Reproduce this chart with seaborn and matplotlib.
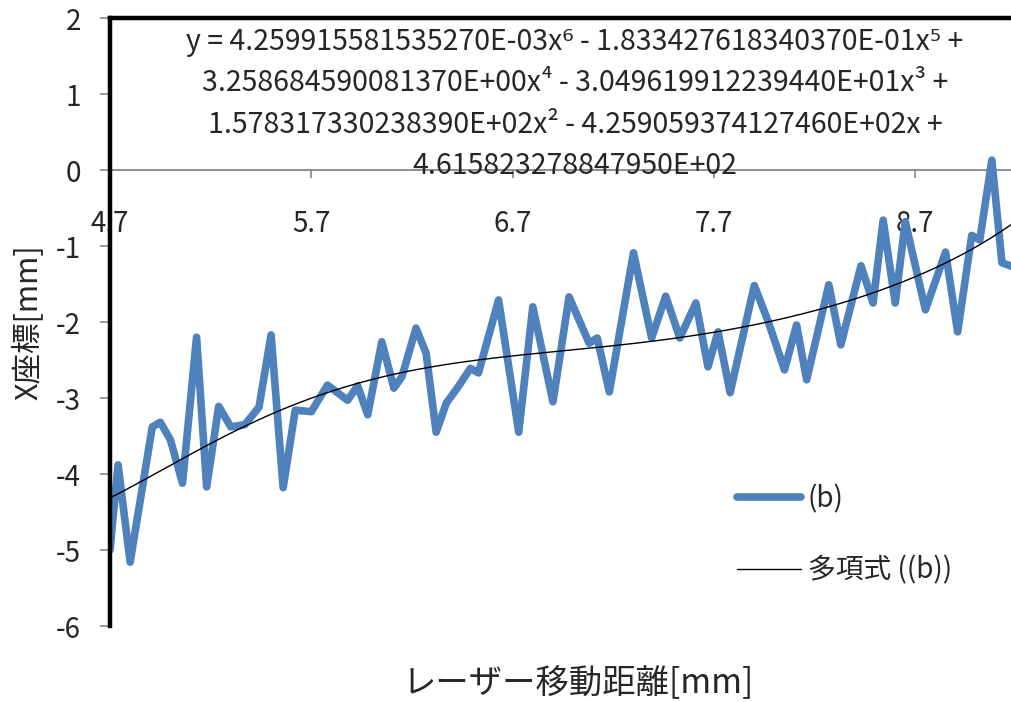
import numpy as np
import pandas as pd
import matplotlib
matplotlib.use("Agg")
import matplotlib.pyplot as plt
import seaborn as sns

# 読み取ったデータ (レーザー移動距離, X座標)
dist_mm = [4.70, 4.74, 4.80, 4.91, 4.95, 5.00, 5.06, 5.13, 5.18, 5.24, 5.30, 5.37,
           5.44, 5.50, 5.56, 5.62, 5.70, 5.78, 5.88, 5.93, 5.98, 6.05, 6.11, 6.15,
           6.22, 6.27, 6.32, 6.37, 6.43, 6.49, 6.53, 6.63, 6.73, 6.80, 6.90, 6.98,
           7.08, 7.12, 7.18, 7.30, 7.39, 7.46, 7.53, 7.61, 7.67, 7.72, 7.78, 7.90,
           7.97, 8.05, 8.11, 8.16, 8.27, 8.33, 8.43, 8.49, 8.54, 8.60, 8.65, 8.75,
           8.85, 8.91, 8.98, 9.02, 9.08, 9.13, 9.18]
x_coord = [-5.00, -3.88, -5.16, -3.38, -3.32, -3.55, -4.12, -2.20, -4.17, -3.11, -3.38, -3.35,
           -3.12, -2.17, -4.18, -3.16, -3.18, -2.83, -3.03, -2.84, -3.22, -2.26, -2.87, -2.72,
           -2.08, -2.41, -3.45, -3.07, -2.85, -2.61, -2.67, -1.71, -3.45, -1.80, -3.05, -1.67,
           -2.28, -2.21, -2.92, -1.09, -2.21, -1.66, -2.21, -1.75, -2.59, -2.13, -2.93, -1.52,
           -2.00, -2.63, -2.04, -2.76, -1.51, -2.30, -1.26, -1.75, -0.66, -1.75, -0.68, -1.84,
           -1.08, -2.13, -0.86, -0.92, 0.13, -1.22, -1.27]

# 近似曲線の係数 (6次多項式, 高次から)
poly_coef = [4.259915581535270E-03, -1.833427618340370E-01, 3.258684590081370E+00,
             -3.049619912239440E+01, 1.578317330238390E+02, -4.259059374127460E+02,
             4.615823278847950E+02]

xtick_vals = [4.7, 5.7, 6.7, 7.7, 8.7]
ytick_vals = [-6, -5, -4, -3, -2, -1, 0, 1, 2]

eq_text = ("y = 4.259915581535270E-03x⁶ - 1.833427618340370E-01x⁵ +\n"
           "3.258684590081370E+00x⁴ - 3.049619912239440E+01x³ +\n"
           "1.578317330238390E+02x² - 4.259059374127460E+02x +\n"
           "4.615823278847950E+02")

df = pd.DataFrame({"dist": dist_mm, "x": x_coord})
xt = np.linspace(min(dist_mm), max(dist_mm), 300)
trend = pd.DataFrame({"dist": xt, "x": np.polyval(poly_coef, xt)})

sns.set_style("white")
plt.rcParams["font.family"] = ["Noto Sans CJK JP", "DejaVu Sans"]
plt.rcParams["axes.unicode_minus"] = False

fig = plt.figure(figsize=(10.12, 7.02), dpi=100)
ax = fig.add_axes([110 / 1012, 1 - 626 / 702, 902 / 1012, 608 / 702])

sns.lineplot(data=df, x="dist", y="x", ax=ax, color="#4F81BD", lw=5.5,
             solid_joinstyle="round", solid_capstyle="round", label="(b)")
sns.lineplot(data=trend, x="dist", y="x", ax=ax, color="black", lw=1,
             label="多項式 ((b))")

ax.set_xlim(4.7, 9.18)
ax.set_ylim(-6, 2)

# 外枠 (上・左が太い黒線)
for s in ["top", "left"]:
    ax.spines[s].set_color("black")
    ax.spines[s].set_linewidth(3.2)
ax.spines["right"].set_visible(False)
ax.spines["bottom"].set_position(("data", 0))
ax.spines["bottom"].set_color("#868686")
ax.spines["bottom"].set_linewidth(1.3)
ax.spines["bottom"].set_zorder(0.5)

ax.set_xticks(xtick_vals)
ax.set_xticklabels([f"{v:.1f}" for v in xtick_vals])
ax.set_yticks(ytick_vals)
ax.tick_params(axis="x", direction="out", length=6, width=1.2, color="#868686",
               pad=22, labelsize=20, bottom=True)
ax.tick_params(axis="y", direction="out", length=7, width=1.2, color="#868686",
               pad=14, labelsize=20, left=True)

ax.set_xlabel("レーザー移動距離[mm]", fontsize=24)
ax.xaxis.set_label_coords((578 - 110) / 902, (626 - 683) / 608)
ax.xaxis.label.set_va("center")
ax.set_ylabel("X座標[mm]", fontsize=22)
ax.yaxis.set_label_coords((28 - 110) / 902, 0.5)
ax.yaxis.label.set_va("center")

ax.text((575 - 110) / 902, 1 - (104 - 18) / 608, eq_text, transform=ax.transAxes,
        ha="center", va="center", fontsize=20.5, linespacing=1.5)

ax.legend(loc="upper left", bbox_to_anchor=(737 / 1012, 1 - 484 / 702),
          bbox_transform=fig.transFigure, frameon=False, fontsize=20,
          handlelength=2.3, handletextpad=0.25, labelspacing=1.5,
          borderpad=0, borderaxespad=0)

fig.savefig("out.png", dpi=100)
